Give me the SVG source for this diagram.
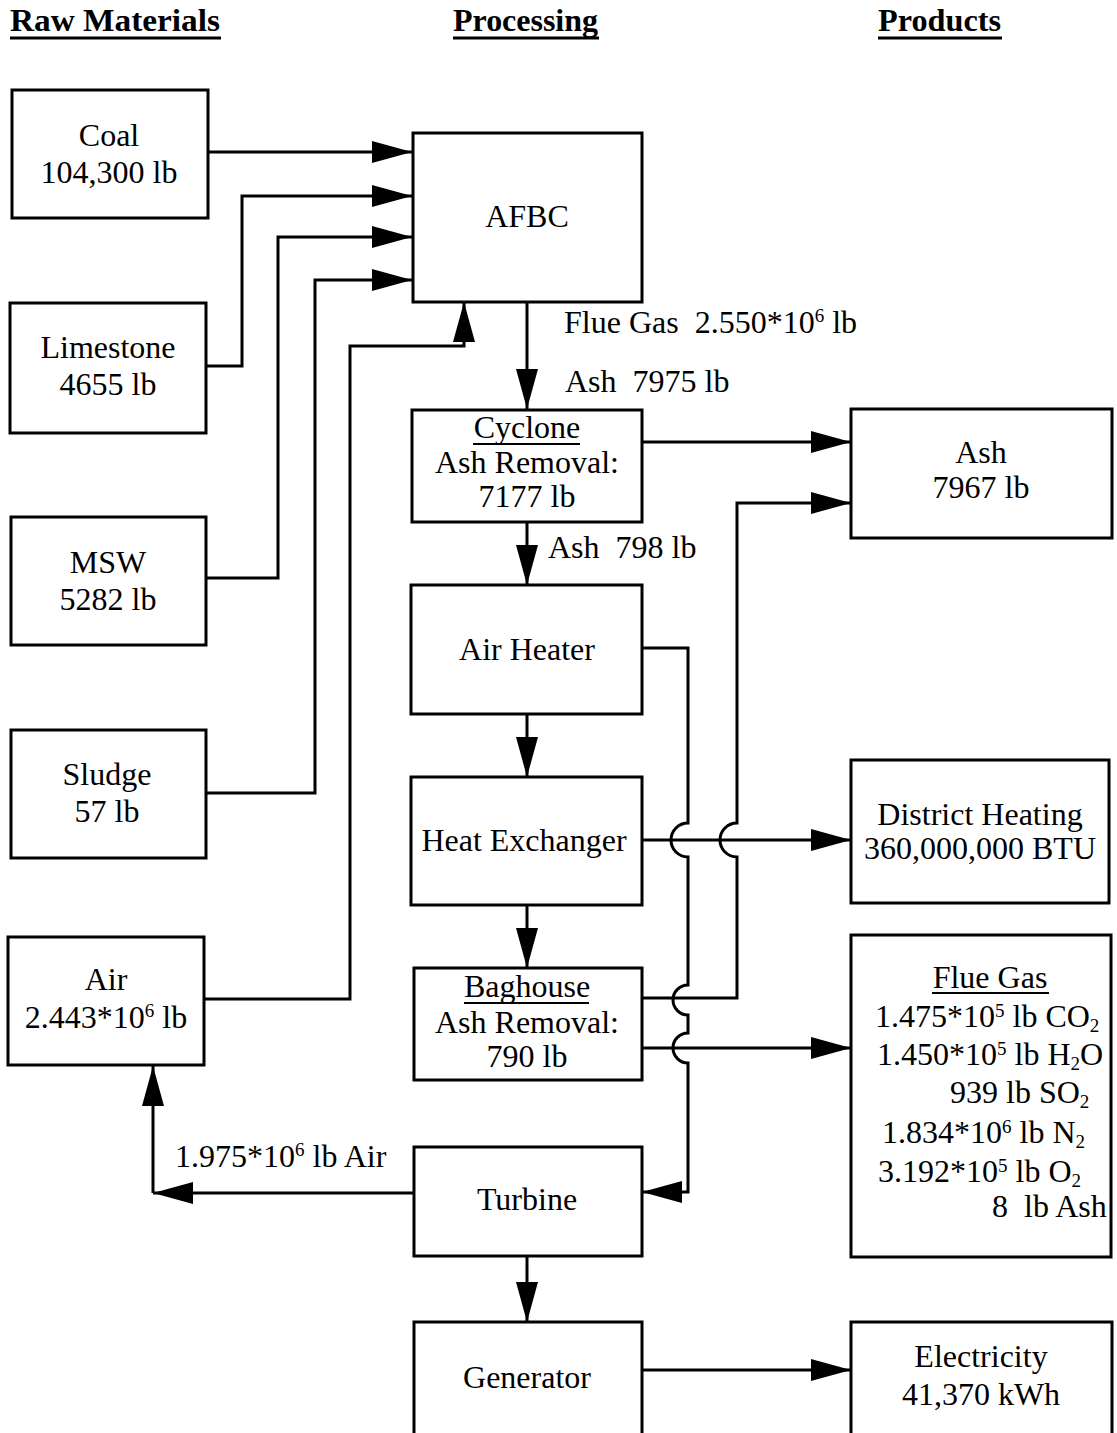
<svg xmlns="http://www.w3.org/2000/svg" width="1117" height="1433" viewBox="0 0 1117 1433">
<style>
  .box { fill: #fff; stroke: #000; stroke-width: 3; }
  .ln { fill: none; stroke: #000; stroke-width: 3; stroke-linecap: butt; stroke-linejoin: miter; }
  .ul { stroke: #000; stroke-width: 2; }
  .hul { stroke: #000; stroke-width: 3; }
  text { font-family: "Liberation Serif", "Times New Roman", serif; font-size: 32px; fill: #000; white-space: pre; }
  .c { text-anchor: middle; }
  .h { font-weight: bold; }
  .sup { font-size: 19px; }
  .sub { font-size: 19px; }
</style>
<defs>
  <marker id="ah" viewBox="0 0 40 22" refX="40" refY="11" markerWidth="40" markerHeight="22" markerUnits="userSpaceOnUse" orient="auto">
    <path d="M0,0 L40,11 L0,22 Z" fill="#000"/>
  </marker>
</defs>
<rect width="1117" height="1433" fill="#fff"/>

<g id="headers">
  <text class="h" x="10" y="31" textLength="210" lengthAdjust="spacingAndGlyphs">Raw Materials</text>
  <line class="hul" x1="10" y1="38" x2="221" y2="38"/>
  <text class="h" x="453" y="31" textLength="145" lengthAdjust="spacingAndGlyphs">Processing</text>
  <line class="hul" x1="453" y1="38" x2="599" y2="38"/>
  <text class="h" x="878" y="31" textLength="123" lengthAdjust="spacingAndGlyphs">Products</text>
  <line class="hul" x1="878" y1="38" x2="1002" y2="38"/>
</g>

<g id="connectors">
  <path class="ln" d="M207,152 H412" marker-end="url(#ah)"/>
  <path class="ln" d="M206,366 H242 V196 H412" marker-end="url(#ah)"/>
  <path class="ln" d="M206,578 H278 V237 H412" marker-end="url(#ah)"/>
  <path class="ln" d="M206,793 H315 V280 H412" marker-end="url(#ah)"/>
  <path class="ln" d="M204,999 H350 V346 H464 V302" marker-end="url(#ah)"/>
  <path class="ln" d="M527,302 V409" marker-end="url(#ah)"/>
  <path class="ln" d="M642,442 H851" marker-end="url(#ah)"/>
  <path class="ln" d="M527,522 V585" marker-end="url(#ah)"/>
  <path class="ln" d="M527,714 V777" marker-end="url(#ah)"/>
  <path class="ln" d="M527,905 V968" marker-end="url(#ah)"/>
  <path class="ln" d="M642,840 H851" marker-end="url(#ah)"/>
  <path class="ln" d="M642,648 H688 V823 A17,17 0 0 0 688,857 V985 A15,15 0 0 0 688,1015 V1033 A15,15 0 0 0 688,1063 V1192 H642" marker-end="url(#ah)"/>
  <path class="ln" d="M642,998 H737 V857 A17,17 0 0 1 737,823 V503 H851" marker-end="url(#ah)"/>
  <path class="ln" d="M642,1048 H851" marker-end="url(#ah)"/>
  <path class="ln" d="M414,1193 H153" marker-end="url(#ah)"/>
  <path class="ln" d="M153,1193 V1066" marker-end="url(#ah)"/>
  <path class="ln" d="M527,1256 V1322" marker-end="url(#ah)"/>
  <path class="ln" d="M642,1370 H851" marker-end="url(#ah)"/>
</g>

<g id="labels">
  <text x="564" y="333">Flue Gas  2.550*10<tspan class="sup" dy="-11">6</tspan><tspan dy="11"> lb</tspan></text>
  <text x="565" y="392">Ash  7975 lb</text>
  <text x="548" y="558">Ash  798 lb</text>
  <text x="175" y="1167">1.975*10<tspan class="sup" dy="-11">6</tspan><tspan dy="11"> lb Air</tspan></text>
</g>

<g id="coal">
  <rect class="box" x="12" y="90" width="196" height="128"/>
  <text class="c" x="109" y="146">Coal</text>
  <text class="c" x="109" y="183">104,300 lb</text>
</g>
<g id="limestone">
  <rect class="box" x="10" y="303" width="196" height="130"/>
  <text class="c" x="108" y="358">Limestone</text>
  <text class="c" x="108" y="395">4655 lb</text>
</g>
<g id="msw">
  <rect class="box" x="11" y="517" width="195" height="128"/>
  <text class="c" x="108" y="573">MSW</text>
  <text class="c" x="108" y="610">5282 lb</text>
</g>
<g id="sludge">
  <rect class="box" x="11" y="730" width="195" height="128"/>
  <text class="c" x="107" y="785">Sludge</text>
  <text class="c" x="107" y="822">57 lb</text>
</g>
<g id="air">
  <rect class="box" x="8" y="937" width="196" height="128"/>
  <text class="c" x="106" y="990">Air</text>
  <text class="c" x="106" y="1028">2.443*10<tspan class="sup" dy="-11">6</tspan><tspan dy="11"> lb</tspan></text>
</g>

<g id="afbc">
  <rect class="box" x="413" y="133" width="229" height="169"/>
  <text class="c" x="527" y="227">AFBC</text>
</g>
<g id="cyclone">
  <rect class="box" x="412" y="410" width="230" height="112"/>
  <text class="c" x="527" y="438">Cyclone</text>
  <line class="ul" x1="473" y1="444" x2="580" y2="444"/>
  <text class="c" x="527" y="473">Ash Removal:</text>
  <text class="c" x="527" y="507">7177 lb</text>
</g>
<g id="airheater">
  <rect class="box" x="411" y="585" width="231" height="129"/>
  <text class="c" x="527" y="660">Air Heater</text>
</g>
<g id="heatexchanger">
  <rect class="box" x="411" y="777" width="231" height="128"/>
  <text class="c" x="524" y="851">Heat Exchanger</text>
</g>
<g id="baghouse">
  <rect class="box" x="414" y="968" width="228" height="112"/>
  <text class="c" x="527" y="997">Baghouse</text>
  <line class="ul" x1="464" y1="1003" x2="589" y2="1003"/>
  <text class="c" x="527" y="1033">Ash Removal:</text>
  <text class="c" x="527" y="1067">790 lb</text>
</g>
<g id="turbine">
  <rect class="box" x="414" y="1147" width="228" height="109"/>
  <text class="c" x="527" y="1210">Turbine</text>
</g>
<g id="generator">
  <rect class="box" x="414" y="1322" width="228" height="120"/>
  <text class="c" x="527" y="1388">Generator</text>
</g>

<g id="ash">
  <rect class="box" x="851" y="409" width="261" height="129"/>
  <text class="c" x="981" y="463">Ash</text>
  <text class="c" x="981" y="498">7967 lb</text>
</g>
<g id="districtheating">
  <rect class="box" x="851" y="760" width="258" height="143"/>
  <text class="c" x="980" y="825">District Heating</text>
  <text class="c" x="980" y="859">360,000,000 BTU</text>
</g>
<g id="fluegas">
  <rect class="box" x="851" y="935" width="260" height="322"/>
  <text class="c" x="990" y="988">Flue Gas</text>
  <line class="ul" x1="932" y1="993" x2="1049" y2="993"/>
  <text x="875" y="1027">1.475*10<tspan class="sup" dy="-10">5</tspan><tspan dy="10"> lb CO</tspan><tspan class="sub" dy="5">2</tspan></text>
  <text x="877" y="1065">1.450*10<tspan class="sup" dy="-10">5</tspan><tspan dy="10"> lb H</tspan><tspan class="sub" dy="5">2</tspan><tspan dy="-5">O</tspan></text>
  <text x="950" y="1103">939 lb SO<tspan class="sub" dy="5">2</tspan></text>
  <text x="882" y="1143">1.834*10<tspan class="sup" dy="-10">6</tspan><tspan dy="10"> lb N</tspan><tspan class="sub" dy="5">2</tspan></text>
  <text x="878" y="1182">3.192*10<tspan class="sup" dy="-10">5</tspan><tspan dy="10"> lb O</tspan><tspan class="sub" dy="5">2</tspan></text>
  <text x="992" y="1217">8  lb Ash</text>
</g>
<g id="electricity">
  <rect class="box" x="851" y="1322" width="261" height="120"/>
  <text class="c" x="981" y="1367">Electricity</text>
  <text class="c" x="981" y="1405">41,370 kWh</text>
</g>
</svg>
